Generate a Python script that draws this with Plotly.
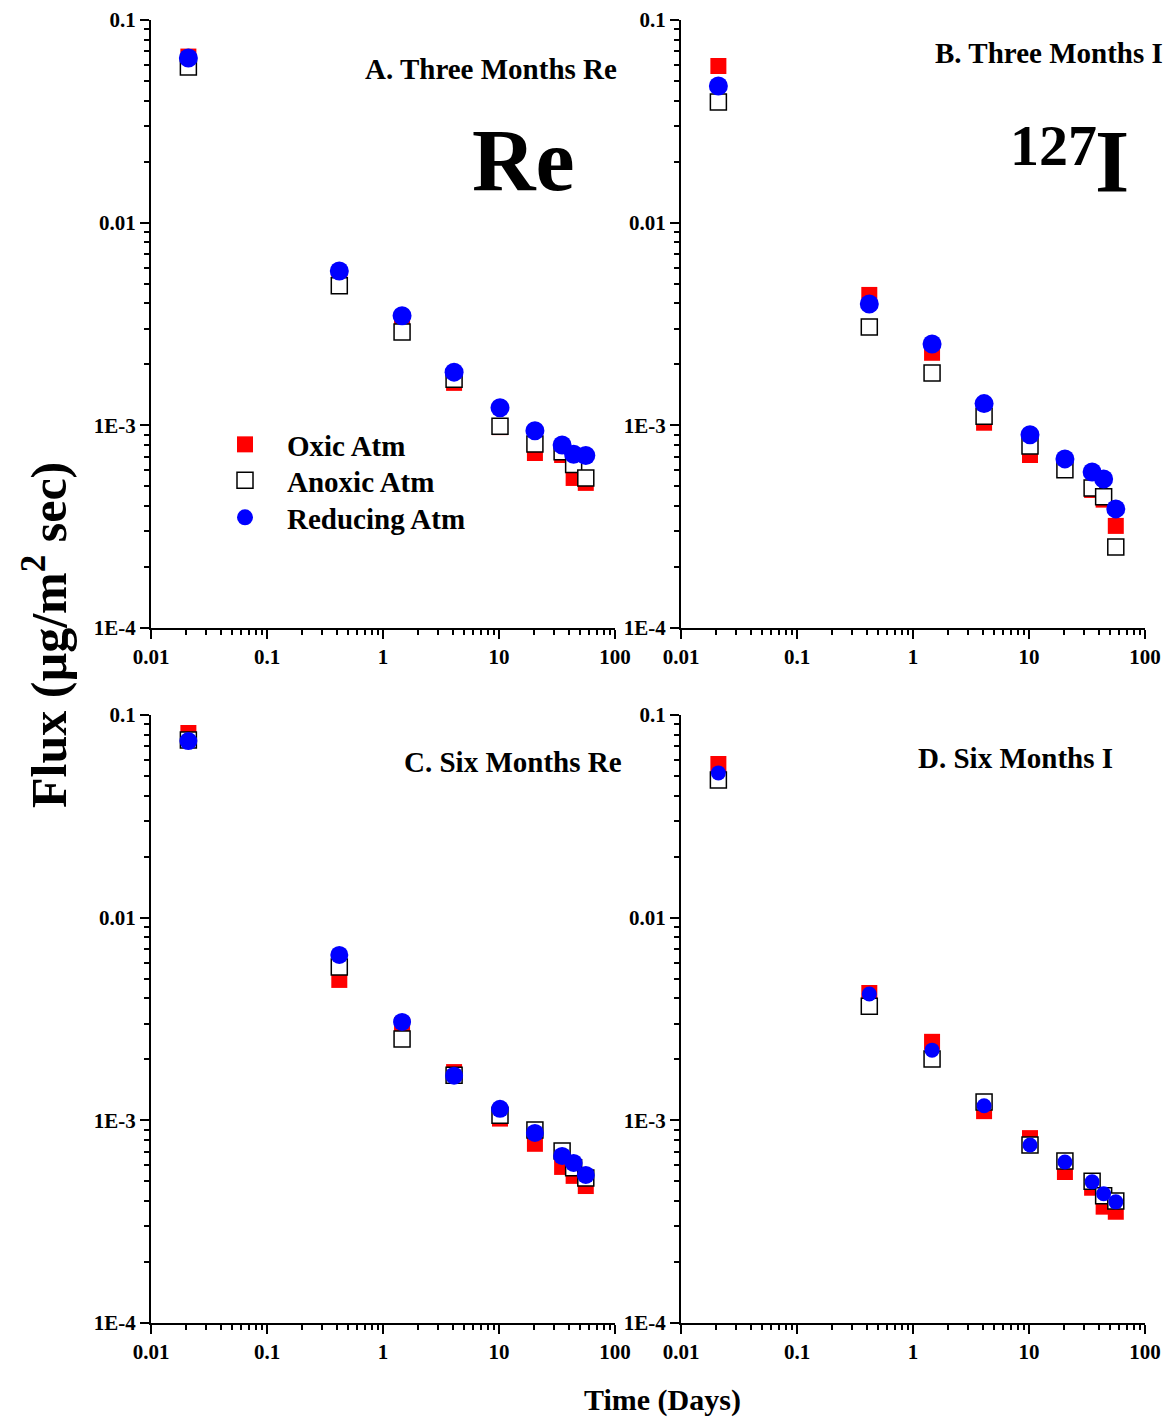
import plotly.graph_objects as go

W, H = 1165, 1419

days = [0.021, 0.42, 1.46, 4.1, 10.2, 20.4, 35, 44, 56]

# Panel A: Three Months Re
a_oxic = [0.066, 0.0052, 0.0031, 0.00162, 0.00098, 0.00073, 0.000714, 0.00055, 0.00052]
a_anoxic = [0.0586, 0.00488, 0.00289, 0.00169, 0.00099, 0.00081, 0.00074, 0.00064, 0.00055]
a_reducing = [0.065, 0.00578, 0.00347, 0.00183, 0.00122, 0.00094, 0.0008, 0.00072, 0.00071]

# Panel B: Three Months I
b_oxic = [0.0593, 0.0044, 0.00228, 0.00103, 0.000714, 0.00062, 0.00048, 0.00043, 0.000319]
b_anoxic = [0.0394, 0.00306, 0.00181, 0.00111, 0.00079, 0.000603, 0.000491, 0.000444, 0.000251]
b_reducing = [0.0472, 0.00397, 0.00252, 0.00128, 0.000898, 0.000683, 0.000589, 0.000544, 0.000387]

# Panel C: Six Months Re
c_oxic = [0.0815, 0.00493, 0.00295, 0.00173, 0.00102, 0.000766, 0.000589, 0.000532, 0.000474]
c_anoxic = [0.0753, 0.00571, 0.00252, 0.00167, 0.00106, 0.000897, 0.000706, 0.000583, 0.00052]
c_reducing = [0.0744, 0.00655, 0.00306, 0.00166, 0.00114, 0.000867, 0.000667, 0.000616, 0.000538]

# Panel D: Six Months I
d_oxic = [0.0573, 0.00425, 0.00244, 0.00111, 0.000817, 0.000556, 0.000465, 0.000375, 0.000354]
d_anoxic = [0.0478, 0.00366, 0.00201, 0.00123, 0.000755, 0.00063, 0.0005, 0.000425, 0.0004]
d_reducing = [0.0518, 0.0042, 0.00222, 0.00118, 0.000755, 0.000623, 0.000497, 0.000434, 0.000396]

series_names = ["Oxic Atm", "Anoxic Atm", "Reducing Atm"]
x_tickvals = [0.01, 0.1, 1, 10, 100]
x_ticktext = ["0.01", "0.1", "1", "10", "100"]
y_tickvals = [0.0001, 0.001, 0.01, 0.1]
y_ticktext = ["1E-4", "1E-3", "0.01", "0.1"]

FONT = "Liberation Serif"

panels = [
    (a_oxic, a_anoxic, a_reducing, 19),
    (b_oxic, b_anoxic, b_reducing, 19),
    (c_oxic, c_anoxic, c_reducing, 18),
    (d_oxic, d_anoxic, d_reducing, 15),
]

fig = go.Figure()
for i, (ox, an, rd, csize) in enumerate(panels):
    sfx = "" if i == 0 else str(i + 1)
    show = i == 0
    fig.add_trace(go.Scatter(x=days, y=ox, mode="markers", name=series_names[0],
                             showlegend=show, legend="legend",
                             marker=dict(symbol="square", size=16, color="#FF0000",
                                         line=dict(width=0)),
                             xaxis="x" + sfx, yaxis="y" + sfx))
    fig.add_trace(go.Scatter(x=days, y=an, mode="markers", name=series_names[1],
                             showlegend=show, legend="legend2",
                             marker=dict(symbol="square", size=16, color="white",
                                         line=dict(width=1.5, color="black")),
                             xaxis="x" + sfx, yaxis="y" + sfx))
    fig.add_trace(go.Scatter(x=days, y=rd, mode="markers", name=series_names[2],
                             showlegend=show, legend="legend3",
                             marker=dict(symbol="circle", size=csize, color="#0000FF",
                                         line=dict(width=0)),
                             xaxis="x" + sfx, yaxis="y" + sfx))

minor_x = [m * 10 ** e for e in range(-2, 2) for m in range(2, 10)]
minor_y = [m * 10 ** e for e in range(-4, -1) for m in range(2, 10)]

def px_x(p):
    return p / W

def px_y(p):
    return 1 - p / H

xdoms = [(px_x(151), px_x(615)), (px_x(681), px_x(1145))]
ydoms = [(px_y(628), px_y(20)), (px_y(1323), px_y(715))]

def xaxis(dom, anchor):
    return dict(type="log", range=[-2, 2], domain=list(dom), anchor=anchor,
                automargin=False,
                showline=True, linewidth=2, linecolor="black",
                ticks="outside", ticklen=9, tickwidth=2, tickcolor="black",
                tickvals=x_tickvals, ticktext=x_ticktext,
                tickfont=dict(family=FONT, size=21, color="black", weight="bold"),
                minor=dict(tickvals=minor_x, ticks="outside", ticklen=5,
                           tickwidth=1.5, tickcolor="black"),
                showgrid=False, zeroline=False)

def yaxis(dom, anchor):
    return dict(type="log", range=[-4, -1], domain=list(dom), anchor=anchor,
                automargin=False,
                showline=True, linewidth=2, linecolor="black",
                ticks="outside", ticklen=9, tickwidth=2, tickcolor="black",
                tickvals=y_tickvals, ticktext=y_ticktext,
                tickfont=dict(family=FONT, size=21, color="black", weight="bold"),
                minor=dict(tickvals=minor_y, ticks="outside", ticklen=5,
                           tickwidth=1.5, tickcolor="black"),
                showgrid=False, zeroline=False)

def legend_at(top_px):
    return dict(x=px_x(203), y=px_y(top_px), xanchor="left", yanchor="top",
                bgcolor="rgba(0,0,0,0)", borderwidth=0,
                font=dict(family=FONT, size=29, color="black", weight="bold"),
                itemwidth=74, itemsizing="trace")

fig.update_layout(
    width=W, height=H,
    margin=dict(l=0, r=0, t=0, b=0, pad=0, autoexpand=False),
    plot_bgcolor="white", paper_bgcolor="white",
    font=dict(family=FONT, color="black", weight="bold"),
    xaxis=xaxis(xdoms[0], "y"), yaxis=yaxis(ydoms[0], "x"),
    xaxis2=xaxis(xdoms[1], "y2"), yaxis2=yaxis(ydoms[0], "x2"),
    xaxis3=xaxis(xdoms[0], "y3"), yaxis3=yaxis(ydoms[1], "x3"),
    xaxis4=xaxis(xdoms[1], "y4"), yaxis4=yaxis(ydoms[1], "x4"),
    legend=legend_at(419),
    legend2=legend_at(455),
    legend3=legend_at(492),
)

def ann(text, x, y, size, xanchor="center", yanchor="middle", angle=0):
    fig.add_annotation(text=text, x=x, y=y, xref="paper", yref="paper",
                       xanchor=xanchor, yanchor=yanchor, showarrow=False,
                       textangle=angle,
                       font=dict(family=FONT, size=size, color="black", weight="bold"))

ann("A. Three Months Re", px_x(491), px_y(69), 29)
ann("B. Three Months I", px_x(933), px_y(53), 29, xanchor="left")
ann("C. Six Months Re", px_x(513), px_y(762), 29)
ann("D. Six Months I", px_x(1015), px_y(758), 29)
ann("Re", px_x(523), px_y(160), 88)
ann("127", px_x(1053), px_y(146), 58)
ann("I", px_x(1112), px_y(162), 88)
ann("Flux (µg/m<sup>2</sup> sec)", px_x(45), px_y(635), 50, angle=-90)
ann("Time (Days)", px_x(662), px_y(1400), 30)

fig.write_html("out.html")
